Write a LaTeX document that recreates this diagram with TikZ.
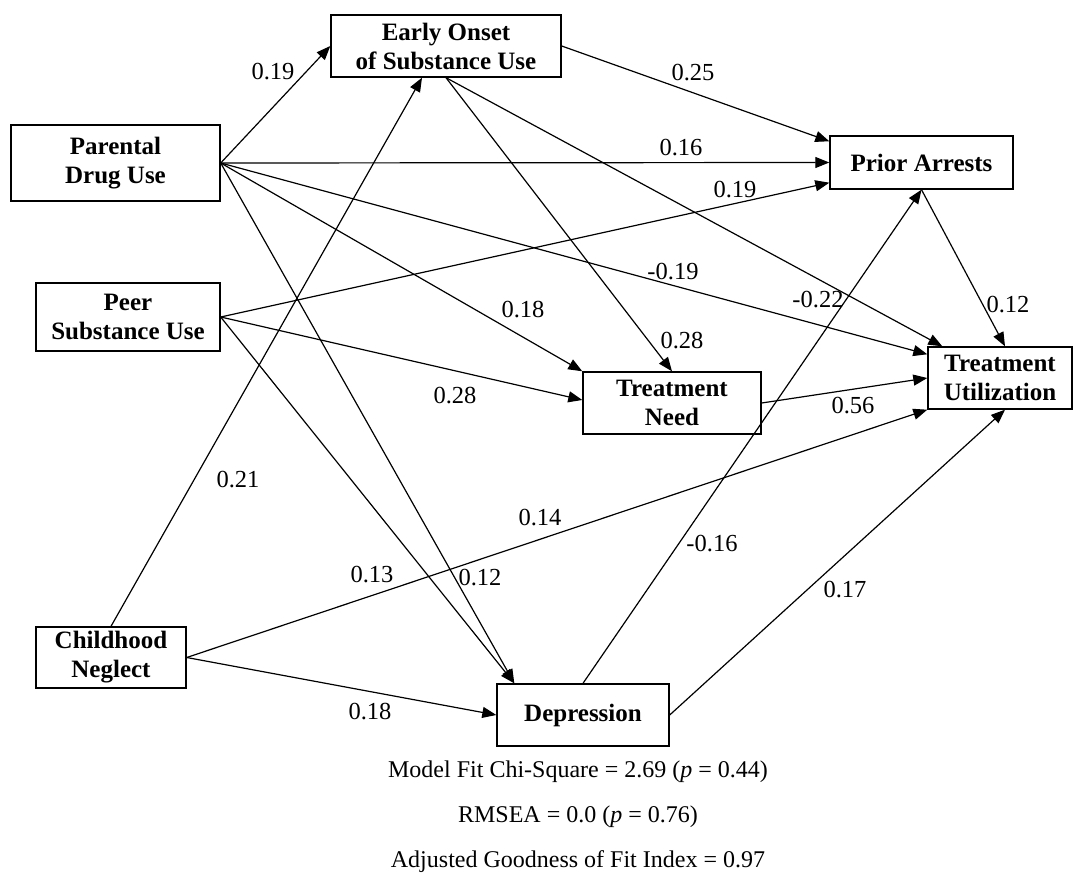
\documentclass[tikz,border=0pt]{standalone}
\usepackage{fontspec}
\setmainfont{Liberation Serif}
\usetikzlibrary{arrows.meta,calc}
\begin{document}
\begin{tikzpicture}[x=1pt,y=-1pt,
  box/.style={draw,line width=1.4pt,inner sep=0pt,align=center,font=\fontsize{25}{29}\selectfont\bfseries},
  conn/.style={line width=1.2pt,-{Triangle[length=14pt,width=11pt]}},
  lbl/.style={font=\fontsize{24.5}{28}\selectfont,inner sep=0pt},
  fit/.style={font=\fontsize{24}{28}\selectfont,inner sep=0pt}]
\useasboundingbox (0,0) rectangle (1073,874);
% boxes
\node[box,minimum width=230pt,minimum height=62pt] (early) at (446,46) {Early Onset\\of Substance Use};
\node[box,minimum width=209pt,minimum height=76pt] (parent) at (115.5,163) {Parental\\Drug Use};
\node[box,minimum width=184pt,minimum height=68pt] (peer) at (128,317) {Peer\\Substance Use};
\node[box,minimum width=150pt,minimum height=61pt] (child) at (111,657.5) {Childhood\\Neglect};
\node[box,minimum width=183pt,minimum height=53pt] (prior) at (921.5,162.5) {Prior Arrests};
\node[box,minimum width=144pt,minimum height=62pt] (util) at (1000,378) {Treatment\\Utilization};
\node[box,minimum width=178pt,minimum height=62pt] (need) at (672,403) {Treatment\\Need};
\node[box,minimum width=172pt,minimum height=62pt] (dep) at (583,715) {Depression};
% attachment points
\coordinate (priorA) at ($(prior.north west)+(0,6)$);
\coordinate (priorC) at ($(prior.south west)+(0,-7)$);
\coordinate (utilA) at ($(util.north west)+(15,0)$);
\coordinate (utilB) at ($(util.north west)+(0,8)$);
\coordinate (utilT) at ($(util.north)+(5,0)$);
\coordinate (utilS) at ($(util.south)+(5,0)$);
\coordinate (depT) at ($(dep.north west)+(18,0)$);
\coordinate (needW) at ($(need.west)+(0,-3)$);
\coordinate (earlyB) at ($(early.south)+(-24,0)$);
% connectors
\draw[conn] (parent.east) -- (early.west);
\draw[conn] (early.east) -- (priorA);
\draw[conn] (parent.east) -- (prior.west);
\draw[conn] (peer.east) -- (priorC);
\draw[conn] (early.south) -- (need.north);
\draw[conn] (early.south) -- (utilA);
\draw[conn] (parent.east) -- (utilB);
\draw[conn] (parent.east) -- (need.north west);
\draw[conn] (parent.east) -- (depT);
\draw[conn] (peer.east) -- (needW);
\draw[conn] (peer.east) -- (depT);
\draw[conn] (child.north) -- (earlyB);
\draw[conn] (child.east) -- (util.south west);
\draw[conn] (child.east) -- (dep.west);
\draw[conn] (need.east) -- (util.west);
\draw[conn] (dep.north) -- (prior.south);
\draw[conn] (dep.east) -- (utilS);
\draw[conn] (prior.south) -- (utilT);
% labels
\node[lbl] (l1) at (273,72) {0.19};
\node[lbl] (l2) at (693,73) {0.25};
\node[lbl] (l3) at (681,148) {0.16};
\node[lbl] (l4) at (735,190) {0.19};
\node[lbl] (l5) at (682,341) {0.28};
\node[lbl] (l6) at (853,406) {0.56};
\node[lbl] (l7) at (1008,305) {0.12};
\node[lbl] (l8) at (818,300) {-0.22};
\node[lbl] (l9) at (673,272) {-0.19};
\node[lbl] (l10) at (523,310) {0.18};
\node[lbl] (l11) at (455,396) {0.28};
\node[lbl] (l12) at (238,480) {0.21};
\node[lbl] (l13) at (372,575) {0.13};
\node[lbl] (l14) at (480,578) {0.12};
\node[lbl] (l15) at (540,518) {0.14};
\node[lbl] (l16) at (712,544) {-0.16};
\node[lbl] (l17) at (845,590) {0.17};
\node[lbl] (l18) at (370,712) {0.18};
% fit statistics
\node[fit] (f1) at (578,772) {Model Fit Chi-Square = 2.69 (\textit{p} = 0.44)};
\node[fit] (f2) at (578,817) {RMSEA = 0.0 (\textit{p} = 0.76)};
\node[fit] (f3) at (578,862) {Adjusted Goodness of Fit Index = 0.97};
\end{tikzpicture}
\end{document}
